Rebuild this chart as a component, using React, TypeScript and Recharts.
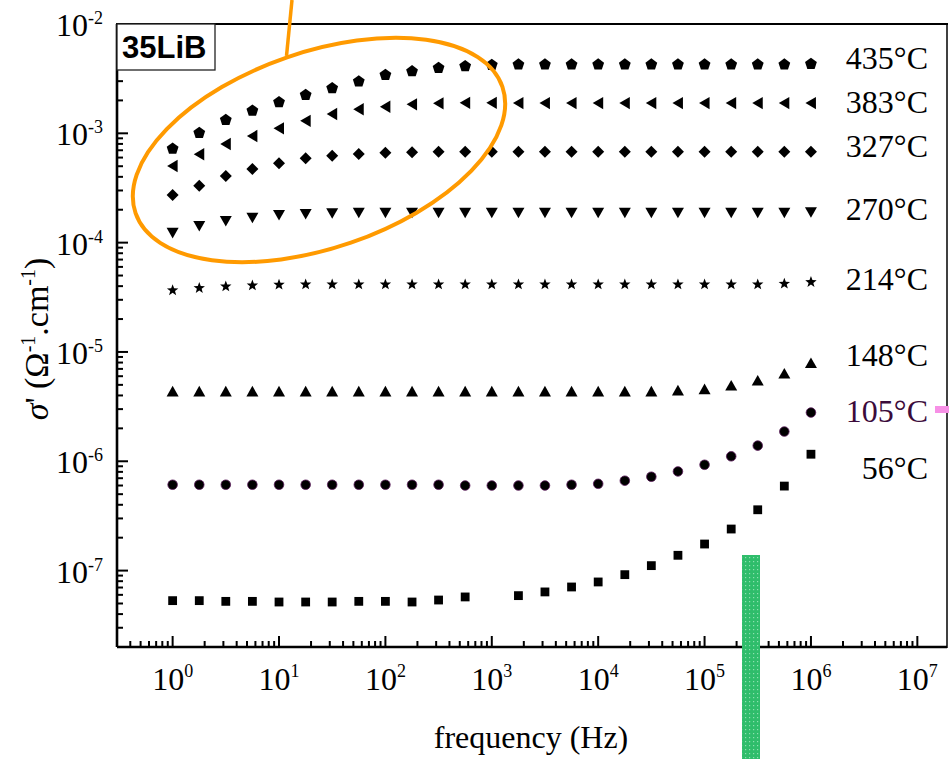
import React from "react";
import { ScatterChart, Scatter, XAxis, YAxis } from "recharts";

// frequency points (Hz), 4 per decade
const freq = [1, 1.78, 3.16, 5.62, 10, 17.8, 31.6, 56.2, 100, 178, 316, 562, 1000, 1780, 3160, 5620, 1e4, 1.78e4, 3.16e4, 5.62e4, 1e5, 1.78e5, 3.16e5, 5.62e5, 1e6];

// sigma' (S/cm) per temperature
const s435 = [7.3e-4, 1.02e-3, 1.34e-3, 1.63e-3, 1.95e-3, 2.27e-3, 2.61e-3, 3.01e-3, 3.46e-3, 3.73e-3, 4.01e-3, 4.15e-3, 4.27e-3, 4.3e-3, 4.3e-3, 4.3e-3, 4.3e-3, 4.3e-3, 4.3e-3, 4.3e-3, 4.3e-3, 4.3e-3, 4.3e-3, 4.3e-3, 4.35e-3];
const s383 = [5.02e-4, 6.43e-4, 7.98e-4, 9.44e-4, 1.11e-3, 1.3e-3, 1.5e-3, 1.66e-3, 1.75e-3, 1.84e-3, 1.88e-3, 1.9e-3, 1.9e-3, 1.89e-3, 1.89e-3, 1.89e-3, 1.89e-3, 1.89e-3, 1.89e-3, 1.89e-3, 1.89e-3, 1.89e-3, 1.89e-3, 1.89e-3, 1.89e-3];
const s327 = [2.73e-4, 3.32e-4, 4.07e-4, 4.72e-4, 5.32e-4, 5.91e-4, 6.24e-4, 6.47e-4, 6.65e-4, 6.7e-4, 6.79e-4, 6.79e-4, 6.79e-4, 6.8e-4, 6.8e-4, 6.8e-4, 6.8e-4, 6.8e-4, 6.8e-4, 6.8e-4, 6.8e-4, 6.8e-4, 6.8e-4, 6.8e-4, 6.8e-4];
const s270 = [1.23e-4, 1.42e-4, 1.58e-4, 1.69e-4, 1.79e-4, 1.83e-4, 1.86e-4, 1.88e-4, 1.88e-4, 1.88e-4, 1.88e-4, 1.88e-4, 1.88e-4, 1.88e-4, 1.88e-4, 1.88e-4, 1.88e-4, 1.88e-4, 1.88e-4, 1.88e-4, 1.88e-4, 1.88e-4, 1.88e-4, 1.88e-4, 1.9e-4];
const s214 = [3.7e-5, 3.88e-5, 4.02e-5, 4.1e-5, 4.17e-5, 4.19e-5, 4.19e-5, 4.19e-5, 4.19e-5, 4.19e-5, 4.19e-5, 4.19e-5, 4.19e-5, 4.19e-5, 4.19e-5, 4.19e-5, 4.19e-5, 4.19e-5, 4.19e-5, 4.19e-5, 4.19e-5, 4.19e-5, 4.19e-5, 4.25e-5, 4.4e-5];
const s148 = [4.35e-6, 4.35e-6, 4.35e-6, 4.35e-6, 4.35e-6, 4.35e-6, 4.35e-6, 4.35e-6, 4.35e-6, 4.35e-6, 4.35e-6, 4.35e-6, 4.35e-6, 4.35e-6, 4.35e-6, 4.35e-6, 4.35e-6, 4.35e-6, 4.35e-6, 4.45e-6, 4.57e-6, 4.93e-6, 5.48e-6, 6.35e-6, 7.91e-6];
const s105 = [6.1e-7, 6.1e-7, 6.1e-7, 6.1e-7, 6.1e-7, 6.1e-7, 6.1e-7, 6.1e-7, 6.1e-7, 6.1e-7, 6.1e-7, 6.0e-7, 6.0e-7, 6.0e-7, 6.0e-7, 6.1e-7, 6.22e-7, 6.64e-7, 7.22e-7, 8.07e-7, 9.29e-7, 1.11e-6, 1.39e-6, 1.87e-6, 2.79e-6];
const s56 = [5.31e-8, 5.31e-8, 5.23e-8, 5.23e-8, 5.16e-8, 5.16e-8, 5.16e-8, 5.23e-8, 5.23e-8, 5.16e-8, 5.38e-8, 5.74e-8, null, 5.9e-8, 6.38e-8, 7.08e-8, 7.87e-8, 9.18e-8, 1.11e-7, 1.38e-7, 1.75e-7, 2.4e-7, 3.6e-7, 5.93e-7, 1.16e-6];

const temps = ["435°C", "383°C", "327°C", "270°C", "214°C", "148°C", "105°C", "56°C"];

const xMajor = [1, 10, 100, 1e3, 1e4, 1e5, 1e6, 1e7];
const yMajor = [1e-7, 1e-6, 1e-5, 1e-4, 1e-3, 1e-2];
const X_DOMAIN = [0.3, 1.9e7];
const Y_DOMAIN = [2e-8, 1e-2];

const withMinors = (majors: number[], lo: number, hi: number) => {
  const out: number[] = [];
  [majors[0] / 10, ...majors].forEach((m) => {
    for (let k = 1; k < 10; k++) {
      const v = +(m * k).toPrecision(6);
      if (v >= lo * 0.999 && v <= hi * 1.001) out.push(v);
    }
  });
  return out;
};
const xTicks = withMinors(xMajor, X_DOMAIN[0], X_DOMAIN[1]);
const yTicks = withMinors(yMajor, Y_DOMAIN[0], Y_DOMAIN[1]);

const toPoints = (vals: (number | null)[]) =>
  freq.map((f, i) => ({ f, s: vals[i] })).filter((d) => d.s != null);

const serif = "'Liberation Serif', 'Times New Roman', serif";

const poly = (pts: number[][]) => pts.map((p) => p.join(",")).join(" ");
const ring = (cx: number, cy: number, n: number, rOut: number, rIn?: number) => {
  const pts: number[][] = [];
  const steps = rIn ? n * 2 : n;
  for (let i = 0; i < steps; i++) {
    const a = -Math.PI / 2 + (i * 2 * Math.PI) / steps;
    const r = rIn && i % 2 === 1 ? rIn : rOut;
    pts.push([cx + r * Math.cos(a), cy + r * Math.sin(a)]);
  }
  return poly(pts);
};

const marker = (kind: string) => (props: any) => {
  const { cx, cy } = props;
  if (cx == null || cy == null) return <g />;
  switch (kind) {
    case "square":
      return <rect x={cx - 4.4} y={cy - 4.4} width={8.8} height={8.8} fill="#000" />;
    case "circle":
      return <circle cx={cx} cy={cy} r={4.8} fill="#000" stroke="#5a1a5a" strokeWidth={0.8} />;
    case "up":
      return <polygon points={poly([[cx, cy - 5.6], [cx + 6, cy + 5], [cx - 6, cy + 5]])} fill="#000" />;
    case "down":
      return <polygon points={poly([[cx - 6, cy - 5], [cx + 6, cy - 5], [cx, cy + 5.6]])} fill="#000" />;
    case "left":
      return <polygon points={poly([[cx - 5.5, cy], [cx + 5, cy - 6.2], [cx + 5, cy + 6.2]])} fill="#000" />;
    case "diamond":
      return <polygon points={poly([[cx, cy - 6], [cx + 6, cy], [cx, cy + 6], [cx - 6, cy]])} fill="#000" />;
    case "star":
      return <polygon points={ring(cx, cy + 0.5, 5, 6, 2.5)} fill="#000" />;
    default:
      return <polygon points={ring(cx, cy + 0.5, 5, 6.2)} fill="#000" />;
  }
};

const isMajor = (v: number) => {
  const e = Math.log10(v);
  return Math.abs(e - Math.round(e)) < 1e-6;
};

const XTick = (props: any) => {
  const { x, y, payload } = props;
  const major = isMajor(payload.value);
  return (
    <g>
      <line x1={x} y1={y} x2={x} y2={y - (major ? 11 : 6)} stroke="#000" strokeWidth={2} />
      {major && (
        <text x={x} y={y + 43} textAnchor="middle" fontFamily={serif} fontSize={32} fill="#000">
          10<tspan dy={-13} fontSize={18}>{Math.round(Math.log10(payload.value))}</tspan>
        </text>
      )}
    </g>
  );
};

const YTick = (props: any) => {
  const { x, y, payload } = props;
  const major = isMajor(payload.value);
  return (
    <g>
      <line x1={x} y1={y} x2={x + (major ? 11 : 6)} y2={y} stroke="#000" strokeWidth={2} />
      {major && (
        <text x={x - 14} y={y + 12} textAnchor="end" fontFamily={serif} fontSize={32} fill="#000">
          10<tspan dy={-12} fontSize={18}>{Math.round(Math.log10(payload.value))}</tspan>
        </text>
      )}
    </g>
  );
};

const series = [
  { name: temps[0], vals: s435, shape: "pentagon", y: 69 },
  { name: temps[1], vals: s383, shape: "left", y: 113 },
  { name: temps[2], vals: s327, shape: "diamond", y: 157 },
  { name: temps[3], vals: s270, shape: "down", y: 220 },
  { name: temps[4], vals: s214, shape: "star", y: 290 },
  { name: temps[5], vals: s148, shape: "up", y: 366 },
  { name: temps[6], vals: s105, shape: "circle", y: 422 },
  { name: temps[7], vals: s56, shape: "square", y: 479 },
];

export default function App() {
  return (
    <div style={{ position: "fixed", left: 0, top: 0, width: 949, height: 759, background: "#fff" }}>
      <ScatterChart width={949} height={759} margin={{ top: 24, right: 2, bottom: 0, left: 0 }}>
        <XAxis
          type="number"
          dataKey="f"
          scale="log"
          domain={X_DOMAIN}
          allowDataOverflow
          ticks={xTicks}
          interval={0}
          height={112}
          tickSize={0}
          tickMargin={0}
          tickLine={false}
          tick={<XTick />}
          axisLine={{ stroke: "#000", strokeWidth: 2.6 }}
        />
        <YAxis
          type="number"
          dataKey="s"
          scale="log"
          domain={Y_DOMAIN}
          allowDataOverflow
          ticks={yTicks}
          interval={0}
          width={117}
          tickSize={0}
          tickMargin={0}
          tickLine={false}
          tick={<YTick />}
          axisLine={{ stroke: "#000", strokeWidth: 2.6 }}
        />
        {series.map((s) => (
          <Scatter
            key={s.name}
            name={s.name}
            data={toPoints(s.vals)}
            shape={marker(s.shape)}
            isAnimationActive={false}
          />
        ))}
      </ScatterChart>
      <svg width={949} height={759} style={{ position: "absolute", left: 0, top: 0, pointerEvents: "none" }}>
        <defs>
          <pattern id="dots" width={4} height={4} patternUnits="userSpaceOnUse">
            <rect width={4} height={4} fill="#2fbd6b" />
            <rect x={1} y={1} width={1.2} height={1.2} fill="#8fe0b0" />
          </pattern>
        </defs>
        <line x1={116} y1={24} x2={948} y2={24} stroke="#000" strokeWidth={2} />
        <line x1={947} y1={24} x2={947} y2={648} stroke="#000" strokeWidth={1.5} />
        <rect x={117} y={24} width={98} height={46} fill="#fff" stroke="#222" strokeWidth={1.3} />
        <text x={122} y={58} fontFamily="'Liberation Sans', Arial, sans-serif" fontWeight="bold" fontSize={31} fill="#000">
          35LiB
        </text>
        <ellipse cx={319} cy={150} rx={194} ry={98} transform="rotate(-19 319 150)" fill="none" stroke="#ff9a00" strokeWidth={4} />
        <line x1={292} y1={0} x2={286.5} y2={56} stroke="#ff9a00" strokeWidth={3.5} />
        {series.map((s) => (
          <text
            key={s.name}
            x={928}
            y={s.y}
            textAnchor="end"
            fontFamily={serif}
            fontSize={32}
            fill={s.name === "105°C" ? "#3b0b3b" : "#000"}
          >
            {s.name}
          </text>
        ))}
        <text x={531} y={748} textAnchor="middle" fontFamily={serif} fontSize={32} fill="#000">
          frequency (Hz)
        </text>
        <text transform="translate(48,339) rotate(-90)" textAnchor="middle" fontFamily={serif} fontSize={34} fill="#000">
          <tspan fontStyle="italic">σ</tspan>' (Ω<tspan dy={-13} fontSize={20}>-1</tspan>
          <tspan dy={13}>.cm</tspan>
          <tspan dy={-13} fontSize={20}>-1</tspan>
          <tspan dy={13}>)</tspan>
        </text>
        <rect x={935} y={406} width={14} height={7} fill="#f790e6" />
        <rect x={742} y={555} width={18} height={204} fill="url(#dots)" />
      </svg>
    </div>
  );
}
